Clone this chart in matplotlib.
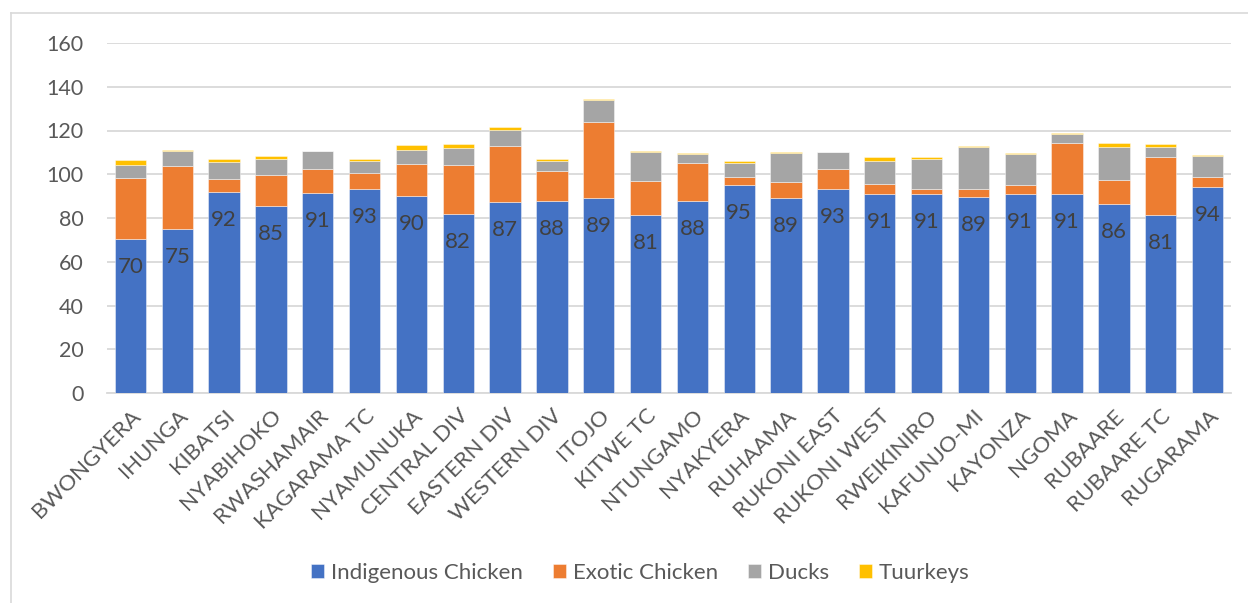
import matplotlib
matplotlib.use("Agg")
import matplotlib.pyplot as plt
from matplotlib.lines import Line2D
import numpy as np

categories = ["BWONGYERA", "IHUNGA", "KIBATSI", "NYABIHOKO", "RWASHAMAIR", "KAGARAMA TC",
              "NYAMUNUKA", "CENTRAL DIV", "EASTERN DIV", "WESTERN DIV", "ITOJO", "KITWE TC",
              "NTUNGAMO", "NYAKYERA", "RUHAAMA", "RUKONI EAST", "RUKONI WEST", "RWEIKINIRO",
              "KAFUNJO-MI", "KAYONZA", "NGOMA", "RUBAARE", "RUBAARE TC", "RUGARAMA"]
indigenous = [70.4, 75.0, 92.0, 85.3, 91.4, 93.4, 89.9, 82.0, 87.2, 87.6, 89.1, 81.4,
              87.6, 94.9, 89.3, 93.4, 91.0, 90.8, 89.4, 90.8, 91.0, 86.2, 81.4, 94.3]
exotic = [27.7, 28.9, 5.8, 14.5, 11.2, 7.4, 14.6, 22.2, 25.6, 13.9, 34.6, 15.4,
          17.5, 3.8, 7.0, 9.0, 4.7, 2.5, 3.7, 4.4, 23.4, 11.1, 26.7, 4.3]
ducks = [6.0, 6.9, 7.8, 7.0, 7.9, 5.2, 6.6, 7.6, 7.3, 4.4, 10.1, 13.6,
         4.2, 6.3, 13.4, 7.6, 10.4, 13.8, 19.5, 13.9, 4.0, 15.2, 4.3, 9.6]
turkeys = [2.6, 0.3, 1.4, 1.4, 0.0, 1.0, 2.3, 2.2, 1.5, 1.2, 0.6, 0.3,
           0.6, 1.2, 0.6, 0.3, 1.8, 0.8, 0.5, 0.6, 0.5, 1.8, 1.5, 0.6]
series_names = ["Indigenous Chicken", "Exotic Chicken", "Ducks", "Tuurkeys"]
colors = ["#4472C4", "#ED7D31", "#A5A5A5", "#FFC000"]
yticks = [0, 20, 40, 60, 80, 100, 120, 140, 160]

plt.rcParams['font.family'] = ['Lato', 'DejaVu Sans']

W, H = 1248, 603
fig = plt.figure(figsize=(W / 100, H / 100), dpi=100)
ax = fig.add_axes([107 / W, 1 - 393 / H, (1231 - 107) / W, (393 - 43) / H])

x = np.arange(len(categories))
bottom = np.zeros(len(categories))
for vals, name, c in zip([indigenous, exotic, ducks, turkeys], series_names, colors):
    vals = np.array(vals)
    ax.bar(x, vals, width=0.667, bottom=bottom, color=c, label=name,
           edgecolor=(1, 1, 1, 0.5), linewidth=0.6, zorder=3)
    bottom += vals

for xi, v in zip(x, indigenous):
    ax.annotate(f"{v:.0f}", (xi, v), xytext=(0, -28), textcoords="offset pixels",
                ha="center", va="center", fontsize=16, color="#404040", zorder=4)

ax.set_xlim(-0.5, len(categories) - 0.5)
ax.set_ylim(0, 160)
ax.set_yticks(yticks)
ax.set_yticklabels([str(t) for t in yticks])
ax.set_xticks(x)
ax.set_xticklabels(categories, rotation=45, ha="right", rotation_mode="anchor")
ax.tick_params(axis="both", length=0, labelsize=15.5, labelcolor="#595959")
ax.tick_params(axis="x", labelsize=16, pad=9)
ax.tick_params(axis="y", pad=17)
ax.grid(axis="y", color="#D9D9D9", linewidth=1.3, zorder=0)
ax.set_axisbelow(True)
for s in ["top", "right", "left"]:
    ax.spines[s].set_visible(False)
ax.spines["bottom"].set_color("#D9D9D9")
ax.spines["bottom"].set_linewidth(1.3)

fig.legend(loc="center", bbox_to_anchor=(0.513, 1 - 573 / H), ncol=4, frameon=False,
           fontsize=16, labelcolor="#595959", handlelength=0.6, handleheight=0.6,
           handletextpad=0.3, columnspacing=1.35)

fig.add_artist(Line2D([10.5 / W, 10.5 / W], [0, 1 - 13 / H], color="#D9D9D9", linewidth=1.2,
                      transform=fig.transFigure))
fig.add_artist(Line2D([10.5 / W, 1], [1 - 13 / H, 1 - 13 / H], color="#D9D9D9", linewidth=1.2,
                      transform=fig.transFigure))

fig.savefig("out.png", dpi=100)
